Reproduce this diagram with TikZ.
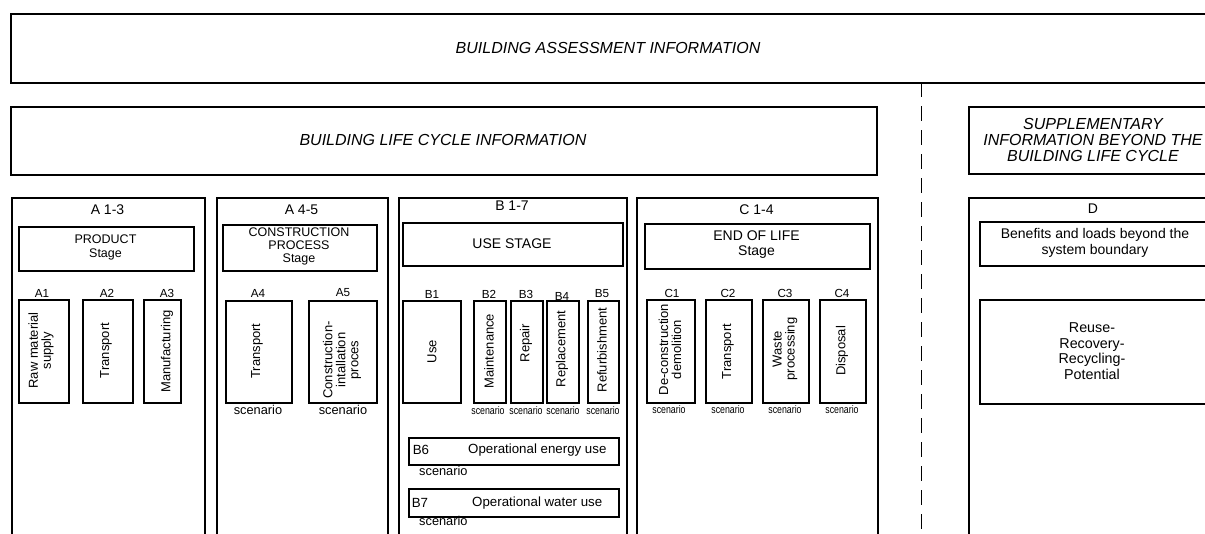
\documentclass[tikz,border=0pt]{standalone}
\usepackage{fontspec}
\setmainfont{Liberation Sans}
\newfontfamily\narrowfont[FakeStretch=0.8]{Liberation Sans}
\newcommand\fs[2]{\fontsize{#1}{#2}\selectfont}
\newcommand\bx[6]{\pgfmathsetmacro\bxw{#4-#2}\pgfmathsetmacro\bxh{#5-#3}%
  \node[#6, minimum width=\bxw pt, minimum height=\bxh pt] (#1) at (#2,#3) {};}
\tikzset{
  outer/.style={draw, line width=1.5pt, inner sep=0pt, anchor=north west},
  inbox/.style={draw, line width=2pt, inner sep=0pt, anchor=north west},
  txt/.style={inner sep=0pt, align=center},
  head/.style={txt, font=\fs{16}{16}\itshape},
  collab/.style={txt, font=\fs{14}{14}},
  sublab/.style={txt, font=\fs{11.7}{12}},
  rot/.style={txt, rotate=90, font=\fs{13}{13}},
  scen/.style={txt, font=\fs{12.8}{13}},
  scensm/.style={txt, font=\narrowfont\fs{11}{11}},
}
\begin{document}
\begin{tikzpicture}[x=1pt,y=-1pt]
\useasboundingbox (0,0) rectangle (1205,533);
% headers
\bx{top}{10}{13}{1210}{82}{outer}
\node[head] (toptxt) at (608,48) {BUILDING ASSESSMENT INFORMATION};
\bx{blc}{10}{106}{876}{174}{outer}
\node[head] (blctxt) at (443,140) {BUILDING LIFE CYCLE INFORMATION};
\bx{sup}{968}{106}{1218}{173}{outer}
\node[head] (suptxt) at (1093,140) {SUPPLEMENTARY\\INFORMATION BEYOND THE\\BUILDING LIFE CYCLE};
% dashed separator
\coordinate (dTop) at (921.5,82);
\coordinate (dEnd) at (921.5,540);
\draw[line width=1.6pt, dash pattern=on 15pt off 9pt] (dTop) -- (dEnd);
% columns
\bx{colA}{11}{197}{204}{545}{outer}
\bx{colAA}{216}{197}{387}{545}{outer}
\bx{colB}{398}{197}{626}{545}{outer}
\bx{colC}{636}{197}{877}{545}{outer}
\bx{colD}{968}{197}{1220}{545}{outer}
\node[collab] (labA) at (107.5,210) {A 1-3};
\node[collab] (labAA) at (301.5,210) {A 4-5};
\node[collab] (labB) at (512,206) {B 1-7};
\node[collab] (labC) at (756.5,210) {C 1-4};
\node[collab] (labD) at (1093,209) {D};
% stage boxes
\bx{prod}{18}{226}{193}{270}{inbox}
\node[txt, font=\fs{12.5}{14}] (prodt) at (105.5,247) {PRODUCT\\Stage};
\bx{cons}{222}{224}{376}{270}{inbox}
\node[txt, font=\fs{12.5}{13}] (const) at (299,246) {CONSTRUCTION\\PROCESS\\Stage};
\bx{usest}{402}{222}{622}{265}{inbox}
\node[txt, font=\fs{14}{14}] (usestt) at (512,243.5) {USE STAGE};
\bx{eol}{644}{223}{869}{268}{inbox}
\node[txt, font=\fs{14}{15}] (eolt) at (756.5,244.5) {END OF LIFE\\Stage};
\bx{ben}{979}{221}{1212}{265}{inbox}
\node[txt, font=\fs{14}{16.5}] (bent) at (1095,243) {Benefits and loads beyond the\\system boundary};
\bx{reu}{979}{299}{1212}{403}{inbox}
\node[txt, font=\fs{14.3}{15.5}] (reut) at (1092,351) {Reuse-\\Recovery-\\Recycling-\\Potential};
% A modules
\bx{A1}{18}{299}{68}{402}{inbox}
\bx{A2}{82}{299}{132}{402}{inbox}
\bx{A3}{143}{299}{180}{402}{inbox}
\bx{A4}{225}{300}{291}{402}{inbox}
\bx{A5}{308}{300}{376}{402}{inbox}
\node[sublab] (A1l) at (42,293) {A1};
\node[sublab] (A2l) at (107,293) {A2};
\node[sublab] (A3l) at (167,293) {A3};
\node[sublab] (A4l) at (258,293) {A4};
\node[sublab] (A5l) at (343,293) {A5};
\node[rot] (A1t) at (41,350.5) {Raw material\\supply};
\node[rot] (A2t) at (106,350.5) {Transport};
\node[rot] (A3t) at (167,351.5) {Manufacturing};
\node[rot] (A4t) at (257,351) {Transport};
\node[rot] (A5t) at (342,360) {Construction-\\intallation\\proces};
\node[scen] (A4s) at (258,410) {scenario};
\node[scen] (A5s) at (343,410) {scenario};
% B modules
\bx{B1}{402}{300}{460}{402}{inbox}
\bx{B2}{473}{300}{505}{402}{inbox}
\bx{B3}{510}{300}{542}{402}{inbox}
\bx{B4}{546}{300}{578}{402}{inbox}
\bx{B5}{587}{300}{618}{402}{inbox}
\node[sublab] (B1l) at (432,294) {B1};
\node[sublab] (B2l) at (489,294) {B2};
\node[sublab] (B3l) at (526,294) {B3};
\node[sublab] (B4l) at (562,296) {B4};
\node[sublab] (B5l) at (602,294) {B5};
\node[rot] (B1t) at (432,351.5) {Use};
\node[rot] (B2t) at (489,351) {Maintenance};
\node[rot] (B3t) at (526,343) {Repair};
\node[rot] (B4t) at (562,349) {Replacement};
\node[rot] (B5t) at (602,350) {Refurbishment};
\node[scensm] (B2s) at (488,411) {scenario};
\node[scensm] (B3s) at (526,411) {scenario};
\node[scensm] (B4s) at (563,411) {scenario};
\node[scensm] (B5s) at (603,411) {scenario};
\bx{B6}{408}{437}{618}{464}{inbox}
\node[txt, font=\fs{13.3}{14}] (B6l) at (421,450) {B6};
\node[txt, font=\fs{13.3}{14}, anchor=west] (B6t) at (468,450) {Operational energy use};
\node[scen, anchor=west] (B6s) at (419,471) {scenario};
\bx{B7}{408}{488}{618}{516}{inbox}
\node[txt, font=\fs{13.3}{14}] (B7l) at (420,503) {B7};
\node[txt, font=\fs{13.3}{14}, anchor=west] (B7t) at (472,503) {Operational water use};
\node[scen, anchor=west] (B7s) at (419,521) {scenario};
% C modules
\bx{C1}{646}{299}{694}{402}{inbox}
\bx{C2}{705}{299}{751}{402}{inbox}
\bx{C3}{762}{299}{808}{402}{inbox}
\bx{C4}{819}{299}{865}{402}{inbox}
\node[sublab] (C1l) at (672,293) {C1};
\node[sublab] (C2l) at (728,293) {C2};
\node[sublab] (C3l) at (785,293) {C3};
\node[sublab] (C4l) at (842,293) {C4};
\node[rot] (C1t) at (670,349.5) {De-construction\\demolition};
\node[rot] (C2t) at (728,351.5) {Transport};
\node[rot] (C3t) at (785,349) {Waste\\processing};
\node[rot] (C4t) at (842,351) {Disposal};
\node[scensm] (C1s) at (669,410) {scenario};
\node[scensm] (C2s) at (728,410) {scenario};
\node[scensm] (C3s) at (785,410) {scenario};
\node[scensm] (C4s) at (842,410) {scenario};
\end{tikzpicture}
\end{document}
